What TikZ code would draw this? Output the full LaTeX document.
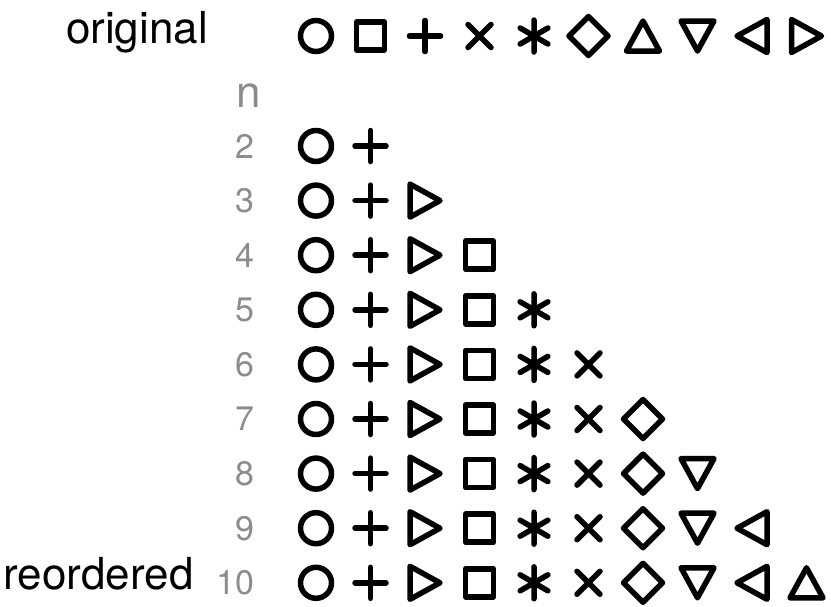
\documentclass[tikz,border=0pt]{standalone}
\usepackage{fontspec}
\setmainfont{TeX Gyre Heros}
\definecolor{numgray}{RGB}{140,140,140}
\begin{document}
\begin{tikzpicture}[x=1pt,y=-1pt,
  mk/.style={line width=5.5pt, line cap=round, line join=round, draw=black},
  biglbl/.style={font=\fontsize{44}{44}\selectfont, text=black, inner sep=0pt, anchor=base},
  nlbl/.style={font=\fontsize{44}{44}\selectfont, text=numgray, inner sep=0pt, anchor=base},
  numlbl/.style={font=\fontsize{34}{34}\selectfont, text=numgray, inner sep=0pt, anchor=east},
  symO/.pic={\draw[mk] (0,0) circle (15.5pt);},
  symS/.pic={\draw[mk] (-14,-14) rectangle (14,14);},
  symP/.pic={\draw[mk] (-15.5,0) -- (15.5,0) (0,-15.5) -- (0,15.5);},
  symX/.pic={\draw[mk] (-11.5,-11.5) -- (11.5,11.5) (-11.5,11.5) -- (11.5,-11.5);},
  symA/.pic={\draw[mk] (0,-16) -- (0,16) (-13.86,-8) -- (13.86,8) (-13.86,8) -- (13.86,-8);},
  symD/.pic={\draw[mk] (0,-19.5) -- (19.5,0) -- (0,19.5) -- (-19.5,0) -- cycle;},
  symU/.pic={\draw[mk] (0,-15) -- (16.5,15) -- (-16.5,15) -- cycle;},
  symV/.pic={\draw[mk] (0,15) -- (16.5,-15) -- (-16.5,-15) -- cycle;},
  symL/.pic={\draw[mk] (-15,0) -- (15,-16.5) -- (15,16.5) -- cycle;},
  symR/.pic={\draw[mk] (15,0) -- (-15,-16.5) -- (-15,16.5) -- cycle;}
]
\useasboundingbox (0,0) rectangle (831,606);
% top row
\node[biglbl] (original) at (137,43) {original};
\foreach \s [count=\i from 0] in {symO,symS,symP,symX,symA,symD,symU,symV,symL,symR}{
  \pic (top\i) at ({316+54.5*\i},36) {\s};
}
\node[nlbl] (nhead) at (249,107) {n};
% reordered rows
\foreach \n in {2,...,10}{
  \pgfmathsetmacro{\yy}{146+(\n-2)*54.6}
  \node[numlbl] (num\n) at (255,\yy) {\n};
  \foreach \s [count=\i from 0] in {symO,symP,symR,symS,symA,symX,symD,symV,symL,symU}{
    \ifnum\i<\n \pic (r\n s\i) at ({316+54.5*\i},\yy) {\s};\fi
  }
}
\node[biglbl] (reordered) at (98.5,589) {reordered};
\end{tikzpicture}
\end{document}
